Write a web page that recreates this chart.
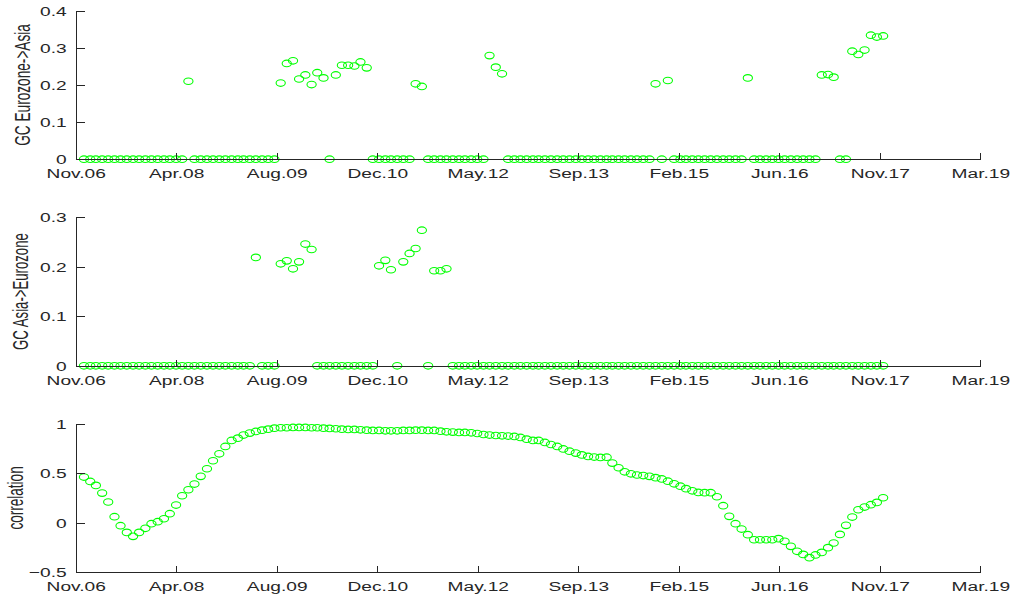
<!DOCTYPE html>
<html>
<head>
<meta charset="utf-8">
<script src="https://cdn.jsdelivr.net/npm/d3@7"></script>
<style>
  body { margin: 0; background: #fff; }
  text { font-family: "Liberation Sans", Arial, sans-serif; fill: #262626; }
</style>
</head>
<body>
<div class="chart"></div>
<script>
// x axis: evenly spaced date ticks, labelled like datetick 'mmm.yy'
var tickLabels = ["Nov.06", "Apr.08", "Aug.09", "Dec.10", "May.12",
                  "Sep.13", "Feb.15", "Jun.16", "Nov.17", "Mar.19"];
var axisStart = new Date(2006, 10, 25);
var axisEnd = new Date(2019, 2, 1);
var firstMonth = new Date(2007, 0, 5);   // one observation per month

var gcEuroToAsia = [
  0, 0, 0, 0, 0, 0, 0, 0, 0, 0,
  0, 0, 0, 0, 0, 0, 0, 0.210, 0, 0,
  0, 0, 0, 0, 0, 0, 0, 0, 0, 0,
  0, 0, 0.205, 0.258, 0.265, 0.216, 0.227, 0.201, 0.233, 0.219,
  0, 0.227, 0.253, 0.253, 0.251, 0.262, 0.246, 0, 0, 0,
  0, 0, 0, 0, 0.203, 0.196, 0, 0, 0, 0,
  0, 0, 0, 0, 0, 0, 0.279, 0.248, 0.230, 0,
  0, 0, 0, 0, 0, 0, 0, 0, 0, 0,
  0, 0, 0, 0, 0, 0, 0, 0, 0, 0,
  0, 0, 0, 0.203, 0, 0.212, 0, 0, 0, 0,
  0, 0, 0, 0, 0, 0, 0, 0, 0.219, 0,
  0, 0, 0, 0, 0, 0, 0, 0, 0, 0,
  0.227, 0.228, 0.221, 0, 0, 0.291, 0.282, 0.294, 0.334, 0.329,
  0.332
];

var gcAsiaToEuro = [
  0, 0, 0, 0, 0, 0, 0, 0, 0, 0,
  0, 0, 0, 0, 0, 0, 0, 0, 0, 0,
  0, 0, 0, 0, 0, 0, 0, 0, 0.219, 0,
  0, 0, 0.206, 0.212, 0.196, 0.210, 0.246, 0.235, 0, 0,
  0, 0, 0, 0, 0, 0, 0, 0, 0.202, 0.213,
  0.194, 0, 0.210, 0.227, 0.237, 0.274, 0, 0.192, 0.192, 0.196,
  0, 0, 0, 0, 0, 0, 0, 0, 0, 0,
  0, 0, 0, 0, 0, 0, 0, 0, 0, 0,
  0, 0, 0, 0, 0, 0, 0, 0, 0, 0,
  0, 0, 0, 0, 0, 0, 0, 0, 0, 0,
  0, 0, 0, 0, 0, 0, 0, 0, 0, 0,
  0, 0, 0, 0, 0, 0, 0, 0, 0, 0,
  0, 0, 0, 0, 0, 0, 0, 0, 0, 0,
  0
];

var correlation = [
  0.461, 0.417, 0.377, 0.299, 0.209, 0.061, -0.030, -0.098, -0.138, -0.098,
  -0.057, -0.010, 0.010, 0.040, 0.091, 0.178, 0.272, 0.333, 0.390, 0.468,
  0.545, 0.626, 0.696, 0.770, 0.831, 0.854, 0.885, 0.905, 0.922, 0.935,
  0.945, 0.955, 0.959, 0.959, 0.962, 0.962, 0.962, 0.959, 0.959, 0.955,
  0.952, 0.949, 0.945, 0.942, 0.942, 0.938, 0.935, 0.932, 0.932, 0.928,
  0.928, 0.928, 0.932, 0.932, 0.935, 0.935, 0.932, 0.932, 0.925, 0.918,
  0.915, 0.912, 0.912, 0.908, 0.901, 0.891, 0.885, 0.881, 0.878, 0.875,
  0.871, 0.861, 0.844, 0.831, 0.831, 0.811, 0.790, 0.770, 0.745, 0.722,
  0.703, 0.685, 0.669, 0.663, 0.659, 0.662, 0.602, 0.555, 0.514, 0.494,
  0.482, 0.476, 0.468, 0.455, 0.442, 0.419, 0.393, 0.369, 0.344, 0.322,
  0.306, 0.303, 0.303, 0.262, 0.172, 0.064, -0.010, -0.064, -0.121, -0.172,
  -0.172, -0.172, -0.172, -0.161, -0.188, -0.239, -0.289, -0.320, -0.353, -0.326,
  -0.300, -0.252, -0.205, -0.118, -0.027, 0.057, 0.131, 0.158, 0.182, 0.205,
  0.252
];

var panels = [
  { label: "GC Eurozone->Asia", values: gcEuroToAsia, domain: [0, 0.4],
    ticks: [0, 0.1, 0.2, 0.3, 0.4], top: 10.7, labelX: 29.5, labelLen: 121.7 },
  { label: "GC Asia->Eurozone", values: gcAsiaToEuro, domain: [0, 0.3],
    ticks: [0, 0.1, 0.2, 0.3], top: 217.3, labelX: 28.3, labelLen: 116.7 },
  { label: "correlation", values: correlation, domain: [-0.5, 1],
    ticks: [-0.5, 0, 0.5, 1], top: 423.7, labelX: 22.7, labelLen: 63.3 }
];

var fullWidth = 1017;
var fullHeight = 599;
var left = 75.7;
var right = 980.3;
var panelHeight = 148.5;
var stretch = 1.42;   // the original figure is widened horizontally
var green = "#00ff00";

var svg = d3
  .select(".chart")
  .append("svg")
  .attr("width", fullWidth)
  .attr("height", fullHeight)
  .style("display", "block");

var xScale = d3
  .scaleTime()
  .domain([axisStart, axisEnd])
  .range([left, right]);

var tickDates = tickLabels.map((d, i) =>
  new Date(+axisStart + i * (axisEnd - axisStart) / (tickLabels.length - 1)));

var dates = correlation.map((d, i) => d3.timeMonth.offset(firstMonth, i));

panels.forEach(function(p) {
  var yScale = d3
    .scaleLinear()
    .domain(p.domain)
    .range([p.top + panelHeight, p.top]);

  var g = svg.append("g");

  // markers
  g.selectAll("ellipse")
    .data(p.values)
    .enter()
    .append("ellipse")
    .attr("cx", (d, i) => xScale(dates[i]))
    .attr("cy", d => yScale(d))
    .attr("rx", 4.6)
    .attr("ry", 3.3)
    .attr("fill", "none")
    .attr("stroke", green)
    .attr("stroke-width", 1.1);

  var xAxis = d3
    .axisBottom(xScale)
    .tickValues(tickDates)
    .tickFormat((d, i) => tickLabels[i])
    .tickSizeInner(-6)
    .tickSizeOuter(0)
    .tickPadding(9.3);

  var yAxis = d3
    .axisLeft(yScale)
    .tickValues(p.ticks)
    .tickFormat(d3.format(""))
    .tickSizeInner(-9)
    .tickSizeOuter(0)
    .tickPadding(9 / stretch);

  [g.append("g")
    .attr("transform", `translate(0, ${p.top + panelHeight})`)
    .call(xAxis),
   g.append("g")
    .attr("transform", `translate(${left}, 0)`)
    .call(yAxis)].forEach(function(a) {
      a.select(".domain").attr("stroke", "#262626").attr("shape-rendering", "crispEdges");
      a.selectAll(".tick line").attr("stroke", "#262626").attr("shape-rendering", "crispEdges");
      a.selectAll("text")
        .attr("font-family", null)
        .attr("font-size", 13.5)
        .attr("fill", "#262626")
        .attr("transform", `scale(${stretch},1)`);
    });

  // y label, rotated
  g.append("text")
    .attr("transform",
      `translate(${p.labelX}, ${p.top + panelHeight / 2}) scale(${stretch},1) rotate(-90)`)
    .attr("text-anchor", "middle")
    .attr("font-size", 15)
    .attr("textLength", p.labelLen)
    .attr("lengthAdjust", "spacingAndGlyphs")
    .text(p.label);
});
</script>
</body>
</html>
